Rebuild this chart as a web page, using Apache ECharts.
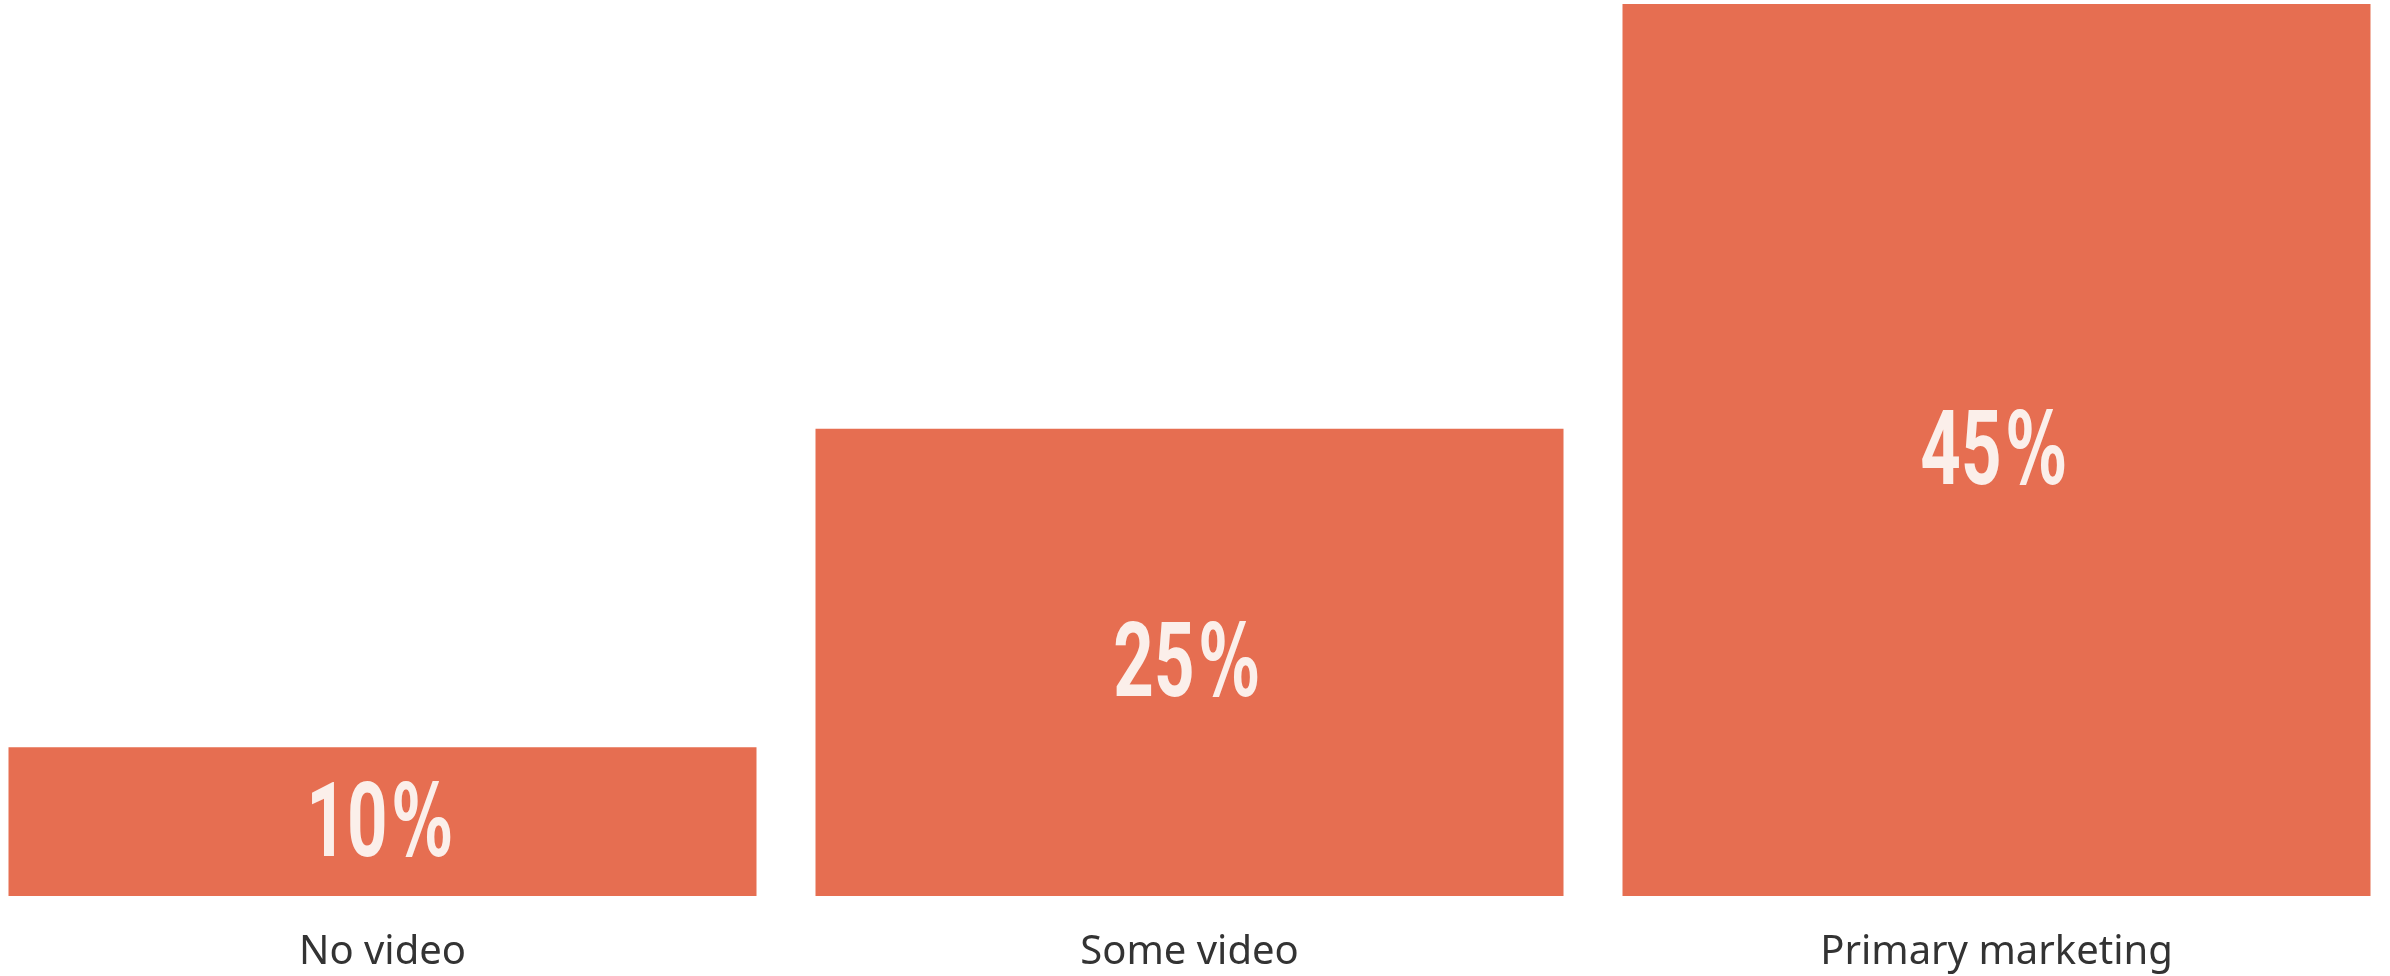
<!DOCTYPE html>
<html>
<head>
<meta charset="utf-8">
<script src="https://cdn.jsdelivr.net/npm/echarts@6/dist/echarts.min.js"></script>
<style>
  html, body { margin: 0; padding: 0; background: #fff; overflow: hidden; }
  #main { width: 2421px; height: 976px; margin-left: -21px; }
</style>
</head>
<body>
<div id="main"></div>
<script>
var categories = ['No video', 'Some video', 'Primary marketing'];
var shares = [10, 25, 45];
var axisMin = 3;

var chart = echarts.init(document.getElementById('main'));

var labelColor = '#FBEFEA';

// value labels are drawn by a custom series so the text can be squeezed horizontally
function renderLabel(params, api) {
  var top = api.coord([api.value(0), api.value(1)]);
  var base = api.coord([api.value(0), axisMin]);
  var cx = top[0];
  var cy = (top[1] + base[1]) / 2 + 8;
  return {
    type: 'group',
    children: [
      {
        type: 'text',
        x: cx + 5,
        y: cy,
        scaleX: 0.68,
        style: {
          text: String(api.value(1)),
          fontSize: 104,
          fontWeight: 'bold',
          fontFamily: 'Roboto, sans-serif',
          fill: labelColor,
          align: 'right',
          verticalAlign: 'middle'
        }
      },
      {
        type: 'text',
        x: cx + 10,
        y: cy,
        scaleX: 0.62,
        scaleY: 1.04,
        style: {
          text: '%',
          fontSize: 96,
          fontFamily: '"DejaVu Sans", sans-serif',
          fontWeight: 'bold',
          fill: labelColor,
          align: 'left',
          verticalAlign: 'middle'
        }
      }
    ]
  };
}

var option = {
  animation: false,
  grid: { left: 0, right: 0, top: 4, bottom: 80 },
  xAxis: {
    type: 'category',
    data: categories,
    axisLine: { show: false },
    axisTick: { show: false },
    axisLabel: {
      margin: 37,
      fontSize: 40,
      fontFamily: '"Noto Sans", sans-serif',
      color: '#333333'
    }
  },
  yAxis: {
    type: 'value',
    min: axisMin,
    max: 45,
    show: false,
    splitLine: { show: false }
  },
  series: [
    {
      type: 'bar',
      data: shares,
      barWidth: 748,
      itemStyle: { color: '#E66E51' }
    },
    {
      type: 'custom',
      renderItem: renderLabel,
      data: shares.map(function (v, i) { return [i, v]; }),
      z: 5
    }
  ]
};
chart.setOption(option);
</script>
</body>
</html>
